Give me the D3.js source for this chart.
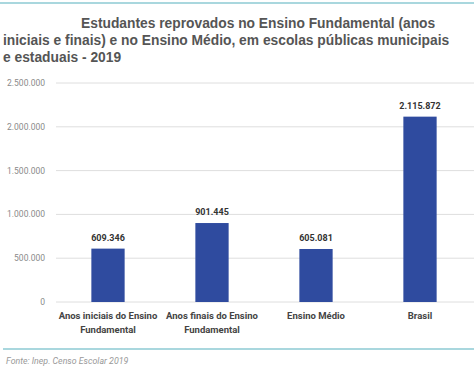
<!DOCTYPE html>
<html>
<head>
  <meta charset="utf-8">
  <script src="https://d3js.org/d3.v7.min.js"></script>
  <style>
    body { margin: 0; background: #fff; font-family: Roboto, sans-serif; }
    svg { display: block; }
  </style>
</head>
<body>
  <svg id="chart" width="474" height="372"></svg>
  <script>
    // data
    const categories = [
      ["Anos iniciais do Ensino", "Fundamental"],
      ["Anos finais do Ensino", "Fundamental"],
      ["Ensino Médio"],
      ["Brasil"]
    ];
    const values = [609346, 901445, 605081, 2115872];
    const yTicks = [0, 500000, 1000000, 1500000, 2000000, 2500000];
    const titleLines = [
      "Estudantes reprovados no Ensino Fundamental (anos",
      "iniciais e finais) e no Ensino Médio, em escolas públicas municipais",
      "e estaduais - 2019"
    ];
    const source = "Fonte: Inep. Censo Escolar 2019";

    const svg = d3.select("#chart");
    const fmt = d3.formatLocale({ decimal: ",", thousands: ".", grouping: [3], currency: ["", ""] }).format(",d");

    // top and bottom teal rules
    svg.append("line").attr("x1", 0).attr("x2", 474).attr("y1", 3).attr("y2", 3)
      .attr("stroke", "#a9d7de").attr("stroke-width", 2);
    svg.append("line").attr("x1", 3).attr("x2", 474).attr("y1", 349).attr("y2", 349)
      .attr("stroke", "#a9d7de").attr("stroke-width", 2);

    // title
    const titleX = [81, 3, 3];
    titleLines.forEach((t, i) => {
      svg.append("text")
        .attr("x", titleX[i]).attr("y", 28 + i * 17)
        .attr("font-family", "'Liberation Sans', Arial, sans-serif")
        .attr("font-size", 13.8).attr("font-weight", "bold")
        .attr("fill", "#555")
        .text(t);
    });

    const x = d3.scaleBand()
      .domain(d3.range(values.length))
      .range([56, 472])
      .paddingInner(0.68)
      .paddingOuter(0.34);
    const y = d3.scaleLinear().domain([0, 2500000]).range([302, 83]);

    // grid
    svg.append("g").selectAll("line").data(yTicks).join("line")
      .attr("x1", 56).attr("x2", 474)
      .attr("y1", d => y(d)).attr("y2", d => y(d))
      .attr("stroke", "#dedede").attr("stroke-width", 1);

    // y labels
    svg.append("g").selectAll("text").data(yTicks).join("text")
      .attr("x", 45).attr("y", d => y(d)).attr("dy", "0.35em")
      .attr("text-anchor", "end").attr("font-size", 8.5).attr("fill", "#8a8a8a")
      .text(d => fmt(d));

    // bars
    svg.append("g").selectAll("rect").data(values).join("rect")
      .attr("x", (d, i) => x(i)).attr("width", x.bandwidth())
      .attr("y", d => y(d)).attr("height", d => y(0) - y(d))
      .attr("fill", "#2f4b9f");

    // value labels
    svg.append("g").selectAll("text").data(values).join("text")
      .attr("x", (d, i) => x(i) + x.bandwidth() / 2).attr("y", d => y(d) - 8)
      .attr("text-anchor", "middle").attr("font-size", 9).attr("font-weight", "bold")
      .attr("fill", "#333")
      .text(d => fmt(d));

    // category labels
    categories.forEach((lines, i) => {
      lines.forEach((l, j) => {
        svg.append("text")
          .attr("x", x(i) + x.bandwidth() / 2).attr("y", 319 + j * 14)
          .attr("text-anchor", "middle").attr("font-size", 9.5).attr("font-weight", "bold")
          .attr("fill", "#444")
          .text(l);
      });
    });

    // source
    svg.append("text")
      .attr("x", 6).attr("y", 364)
      .attr("font-size", 8.8).attr("font-style", "italic").attr("fill", "#999")
      .text(source);
  </script>
</body>
</html>
